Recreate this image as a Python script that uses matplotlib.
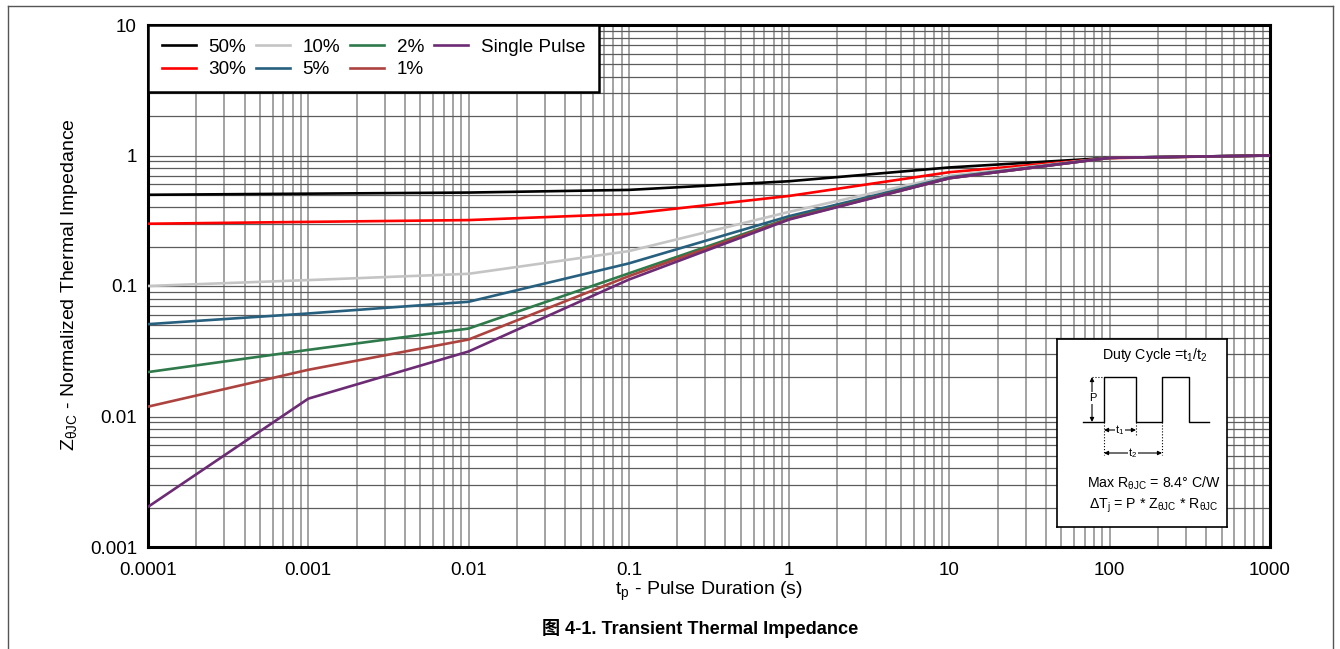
import numpy as np
import matplotlib
matplotlib.use("Agg")
import matplotlib.pyplot as plt
from matplotlib.ticker import LogLocator, FixedLocator, FixedFormatter, NullFormatter
from matplotlib.lines import Line2D

plt.rcParams['font.family'] = ['Liberation Sans', 'DejaVu Sans']
plt.rcParams['mathtext.fontset'] = 'custom'
plt.rcParams['mathtext.rm'] = 'Liberation Sans'
plt.rcParams['mathtext.it'] = 'Liberation Sans:italic'
plt.rcParams['mathtext.bf'] = 'Liberation Sans:bold'

# Pulse duration (s) and normalized Z_thJC per duty cycle
pulse_time = [0.0001, 0.001, 0.01, 0.1, 1, 10, 100, 1000]
z_50 = [0.50, 0.51, 0.52, 0.545, 0.635, 0.81, 0.96, 1.0]
z_30 = [0.30, 0.31, 0.32, 0.357, 0.49, 0.745, 0.955, 1.0]
z_10 = [0.10, 0.111, 0.124, 0.185, 0.37, 0.70, 0.96, 1.0]
z_5 = [0.051, 0.0616, 0.0757, 0.149, 0.343, 0.68, 0.96, 1.0]
z_2 = [0.0219, 0.0324, 0.0472, 0.125, 0.33, 0.67, 0.96, 1.0]
z_1 = [0.0119, 0.0228, 0.0389, 0.119, 0.326, 0.67, 0.96, 1.0]
z_single = [0.00203, 0.0137, 0.0315, 0.112, 0.323, 0.67, 0.96, 1.0]

series_labels = ['50%', '30%', '10%', '5%', '2%', '1%', 'Single Pulse']
series_values = [z_50, z_30, z_10, z_5, z_2, z_1, z_single]
series_colors = ['#000000', '#ff0000', '#c4c4c4', '#27607f', '#2e7a4b', '#ad433f', '#6c2b74']

x_ticks = [0.0001, 0.001, 0.01, 0.1, 1, 10, 100, 1000]
x_tick_labels = ['0.0001', '0.001', '0.01', '0.1', '1', '10', '100', '1000']
y_ticks = [0.001, 0.01, 0.1, 1, 10]
y_tick_labels = ['0.001', '0.01', '0.1', '1', '10']

W, H = 1340, 649
fig = plt.figure(figsize=(W / 100, H / 100), dpi=100)

# page frame around the figure
frame_kw = dict(color='#555555', lw=1.0, transform=fig.transFigure, clip_on=False)
fig.add_artist(Line2D([8 / W, 8 / W], [0, 1 - 6 / H], **frame_kw))
fig.add_artist(Line2D([8 / W, 1333 / W], [1 - 6 / H, 1 - 6 / H], **frame_kw))
fig.add_artist(Line2D([1333 / W, 1333 / W], [0, 1 - 6 / H], **frame_kw))

ax = fig.add_axes([148 / W, 1 - 547 / H, 1122 / W, 522 / H])
ax.set_xscale('log')
ax.set_yscale('log')
ax.set_xlim(1e-4, 1e3)
ax.set_ylim(1e-3, 10)

for lab, vals, col in zip(series_labels, series_values, series_colors):
    ax.plot(pulse_time, vals, color=col, lw=1.9, label=lab, zorder=3)

ax.xaxis.set_major_locator(FixedLocator(x_ticks))
ax.xaxis.set_major_formatter(FixedFormatter(x_tick_labels))
ax.yaxis.set_major_locator(FixedLocator(y_ticks))
ax.yaxis.set_major_formatter(FixedFormatter(y_tick_labels))
ax.xaxis.set_minor_locator(LogLocator(base=10, subs=np.arange(2, 10), numticks=20))
ax.yaxis.set_minor_locator(LogLocator(base=10, subs=np.arange(2, 10), numticks=20))
ax.xaxis.set_minor_formatter(NullFormatter())
ax.yaxis.set_minor_formatter(NullFormatter())

ax.grid(True, which='both', axis='x', color='#9c9c9c', lw=1.3)
ax.grid(True, which='both', axis='y', color='#5c5c5c', lw=0.9)
ax.set_axisbelow(True)

ax.tick_params(which='both', length=0)
ax.tick_params(axis='y', pad=8, labelsize=13.5)
ax.tick_params(axis='x', pad=11, labelsize=13.5)
for s in ax.spines.values():
    s.set_linewidth(2.2)
    s.set_color('black')

fig.text(70 / W, 1 - 285 / H, r'Z$_{\mathrm{\theta JC}}$ - Normalized Thermal Impedance',
         rotation=90, ha='center', va='center', fontsize=14)
fig.text(709 / W, 1 - 591 / H, r't$_{\mathrm{p}}$ - Pulse Duration (s)',
         ha='center', va='center', fontsize=14)
fig.text(700 / W, 1 - 628 / H, '图 4-1. Transient Thermal Impedance',
         ha='center', va='center', fontsize=13.1, fontweight='bold',
         family=['Liberation Sans', 'Noto Sans CJK SC'])

leg = ax.legend(loc='upper left', bbox_to_anchor=(0, 1), borderaxespad=0, ncol=4,
                fontsize=13.6, fancybox=False, edgecolor='black', framealpha=1,
                handlelength=1.8, handletextpad=0.65, columnspacing=0.55,
                labelspacing=0.28, borderpad=0.72)
leg.get_frame().set_linewidth(1.8)
leg.set_zorder(5)

# duty-cycle definition box, drawn in local pixel units
ins = fig.add_axes([1057 / W, 1 - 527 / H, 170 / W, 188 / H])
ins.set_xlim(0, 170)
ins.set_ylim(188, 0)
ins.set_xticks([])
ins.set_yticks([])
for s in ins.spines.values():
    s.set_linewidth(1.2)
ins.set_zorder(6)
fs = 10.2
ins.text(98, 16, r'Duty Cycle =t$_{1}$/t$_{2}$', ha='center', va='center', fontsize=fs)
wave_x = [26, 47, 47, 79, 79, 105, 105, 132, 132, 152]
wave_y = [83, 83, 38, 38, 83, 83, 38, 38, 83, 83]
ins.plot(wave_x, wave_y, color='black', lw=1.0)
ins.plot([35, 47], [38, 38], color='black', lw=0.8, ls=':')
ins.plot([47, 47], [83, 116], color='black', lw=0.8, ls=':')
ins.plot([79, 79], [83, 96], color='black', lw=0.8, ls=':')
ins.plot([105, 105], [83, 116], color='black', lw=0.8, ls=':')
arrow_kw = dict(arrowstyle='<|-|>', color='black', lw=0.8, mutation_scale=6,
                shrinkA=0, shrinkB=0)
ins.annotate('', xy=(35, 38), xytext=(35, 83), arrowprops=arrow_kw)
ins.annotate('', xy=(47, 91), xytext=(79, 91), arrowprops=arrow_kw)
ins.annotate('', xy=(47, 114), xytext=(105, 114), arrowprops=arrow_kw)
box = dict(facecolor='white', edgecolor='none', pad=0.5)
ins.text(36, 59, 'P', ha='center', va='center', fontsize=8, bbox=box)
ins.text(63, 91, r't$_{1}$', ha='center', va='center', fontsize=8, bbox=box)
ins.text(76, 114, r't$_{2}$', ha='center', va='center', fontsize=8, bbox=box)
ins.text(97, 144, r'Max R$_{\mathrm{\theta JC}}$ = 8.4° C/W', ha='center', va='center', fontsize=fs)
ins.text(97, 167, r'ΔT$_{\mathrm{j}}$ = P * Z$_{\mathrm{\theta JC}}$ * R$_{\mathrm{\theta JC}}$',
         ha='center', va='center', fontsize=fs)

fig.savefig('out.png', dpi=100)
